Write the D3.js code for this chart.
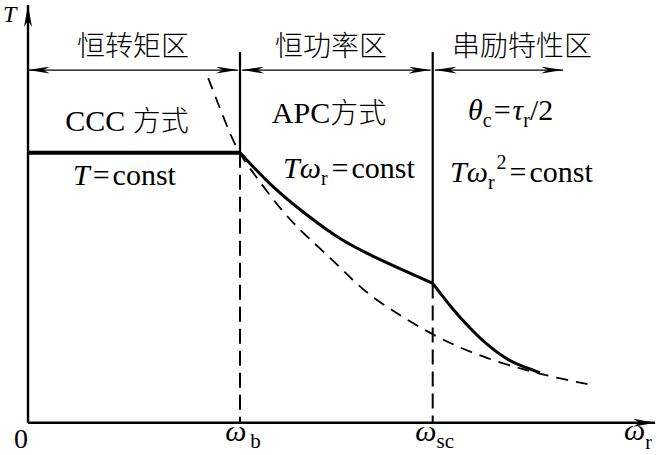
<!DOCTYPE html>
<html>
<head>
<meta charset="utf-8">
<script src="https://cdn.jsdelivr.net/npm/d3@7"></script>
<style>
  body { margin: 0; background: #fff; }
  text { fill: #000; }
</style>
</head>
<body>
<script>
// values: speed in units of omega_b, torque in units of the constant torque
var regionBounds = [0, 1, 1.909, 2.524];
var regionNames = ["恒转矩区", "恒功率区", "串励特性区"];

var constOmega = [0, 1];
var constTorque = [1, 1];

var apcOmega = [1.0, 1.157, 1.315, 1.472, 1.629, 1.786, 1.909];
var apcTorque = [1.0, 0.868, 0.769, 0.677, 0.615, 0.559, 0.516];

var seriesOmega = [1.909, 2.006, 2.085, 2.164, 2.258, 2.321, 2.415];
var seriesTorque = [0.516, 0.417, 0.350, 0.289, 0.234, 0.212, 0.185];

var dashOmega = [0.850, 0.921, 0.984, 1.063, 1.204, 1.315, 1.472, 1.598, 1.865, 2.006, 2.164, 2.321, 2.478, 2.659];
var dashTorque = [1.276, 1.133, 1.010, 0.924, 0.776, 0.689, 0.578, 0.473, 0.344, 0.288, 0.238, 0.201, 0.168, 0.140];

var tickOmega = [0, 1, 1.909];

var dividerTop = 1.373;   // top of the region dividers
var arrowRow = 1.306;     // level of the region arrows
var axisTopT = 1.547;
var axisEndW = 2.958;

var svgWidth = 657;
var svgHeight = 455;

var svg = d3.select("body")
  .append("svg")
  .attr("width", svgWidth)
  .attr("height", svgHeight);

var x = d3.scaleLinear().domain([0, 3]).range([28, 664]);
var y = d3.scaleLinear().domain([0, 1.5]).range([422.7, 17.7]);

var defs = svg.append("defs");
function addMarker(id, len, half) {
  defs.append("marker")
    .attr("id", id)
    .attr("markerUnits", "userSpaceOnUse")
    .attr("viewBox", `0 ${-half} ${len} ${half * 2}`)
    .attr("refX", len)
    .attr("refY", 0)
    .attr("markerWidth", len)
    .attr("markerHeight", half * 2)
    .attr("orient", "auto-start-reverse")
    .append("path")
    .attr("d", `M0,${-half}L${len},0L0,${half}L${len * 0.3},0Z`)
    .attr("fill", "#000");
}
addMarker("dart", 22, 3.5);
addMarker("axisHead", 22, 4);

function zipPts(ws, ts) {
  return ws.map((w, i) => [w, ts[i]]);
}

var line = d3.line()
  .x(d => x(d[0]))
  .y(d => y(d[1]));
var smooth = d3.line()
  .x(d => x(d[0]))
  .y(d => y(d[1]))
  .curve(d3.curveBasis);

// axes
svg.append("line")
  .attr("x1", x(0)).attr("y1", y(0))
  .attr("x2", x(0)).attr("y2", y(axisTopT))
  .attr("stroke", "#000").attr("stroke-width", 2.4)
  .attr("marker-end", "url(#axisHead)");
svg.append("line")
  .attr("x1", x(0)).attr("y1", y(0))
  .attr("x2", x(axisEndW)).attr("y2", y(0))
  .attr("stroke", "#000").attr("stroke-width", 2.4)
  .attr("marker-end", "url(#axisHead)");

// region dividers: solid above the curve, dashed below
var breakT = [1, apcTorque[apcTorque.length - 1]];
[1, 2].forEach(function(k, i) {
  var w = regionBounds[k];
  svg.append("path")
    .attr("d", line([[w, dividerTop], [w, breakT[i]]]))
    .attr("stroke", "#000").attr("stroke-width", 2.2).attr("fill", "none");
  svg.append("path")
    .attr("d", line([[w, breakT[i]], [w, 0]]))
    .attr("stroke", "#000").attr("stroke-width", 2)
    .attr("stroke-dasharray", "15,7").attr("fill", "none");
});

// region arrows
for (var i = 0; i < 3; i++) {
  var gap = i === 0 ? 0 : 0.01;
  svg.append("line")
    .attr("x1", x(regionBounds[i] + gap)).attr("y1", y(arrowRow))
    .attr("x2", x(regionBounds[i + 1] - (i < 2 ? 0.01 : 0))).attr("y2", y(arrowRow))
    .attr("stroke", "#000").attr("stroke-width", 1.4)
    .attr("marker-start", "url(#dart)")
    .attr("marker-end", "url(#dart)");
}

// dashed reference curve
svg.append("path")
  .attr("d", smooth(zipPts(dashOmega, dashTorque)))
  .attr("fill", "none").attr("stroke", "#000")
  .attr("stroke-width", 1.8).attr("stroke-dasharray", "12,8");

// characteristic
svg.append("path")
  .attr("d", line(zipPts(constOmega, constTorque)))
  .attr("fill", "none").attr("stroke", "#000").attr("stroke-width", 4);
svg.append("path")
  .attr("d", smooth(zipPts(apcOmega, apcTorque)))
  .attr("fill", "none").attr("stroke", "#000").attr("stroke-width", 3);
svg.append("path")
  .attr("d", smooth(zipPts(seriesOmega, seriesTorque)))
  .attr("fill", "none").attr("stroke", "#000").attr("stroke-width", 3);

// text
var serif = "'Liberation Serif', 'Noto Sans CJK SC', serif";
var cjk = "'Noto Sans CJK SC', sans-serif";

var regionCx = [133, 331, 522];
regionNames.forEach(function(name, i) {
  svg.append("text")
    .attr("x", regionCx[i]).attr("y", 56)
    .attr("text-anchor", "middle")
    .attr("font-family", cjk).attr("font-size", 28)
    .attr("font-weight", 300)
    .text(name);
});

function label(xp, yp, anchor, parts) {
  var t = svg.append("text")
    .attr("x", xp).attr("y", yp)
    .attr("text-anchor", anchor)
    .attr("font-family", serif).attr("font-size", 30);
  parts.forEach(function(p) {
    var s = t.append("tspan").text(p.t);
    if (p.i) s.attr("font-style", "italic");
    if (p.dy) s.attr("dy", p.dy);
    if (p.fs) s.attr("font-size", p.fs);
    if (p.f) s.attr("font-family", p.f).attr("font-weight", 300);
    if (p.dx) s.attr("dx", p.dx);
  });
  return t;
}

label(127, 131, "middle", [{t: "CCC "}, {t: "方式", f: cjk, fs: 28}]);
label(329, 123, "middle", [{t: "APC"}, {t: "方式", f: cjk, fs: 28}]);
label(73, 185, "start", [{t: "T", i: true}, {t: "=", dx: 3}, {t: "const", dx: 3}]);
label(283, 178, "start", [{t: "T", i: true}, {t: "ω", i: true},
  {t: "r", fs: 20, dy: 7}, {t: "=", dy: -7, dx: 4}, {t: "const", dx: 3}]);
label(468, 120, "start", [{t: "θ", i: true}, {t: "c", fs: 20, dy: 7},
  {t: "=", dy: -7, dx: 2}, {t: "τ", i: true, dx: 2}, {t: "r", fs: 20, dy: 7}, {t: "/2", dy: -7}]);
label(450, 182, "start", [{t: "T", i: true}, {t: "ω", i: true},
  {t: "r", fs: 20, dy: 7}, {t: "2", fs: 20, dy: -20, dx: 2}, {t: "=", dy: 13, dx: 3}, {t: "const", dx: 3}]);

// axis labels
label(3, 22, "start", [{t: "T", i: true}]).attr("font-size", 24);
label(21, 448, "middle", [{t: "0"}]).attr("font-size", 28);
var tickNames = [null, "b", "sc"];
tickOmega.forEach(function(w, i) {
  if (i === 0) return;
  label(x(w) + (i === 1 ? 3 : 2), 441, "middle", [{t: "ω", i: true},
    {t: tickNames[i], fs: 21, dy: 7, dx: i === 1 ? 4 : 0}]);
});
label(638, 440, "middle", [{t: "ω", i: true}, {t: "r", fs: 20, dy: 9}]);
</script>
</body>
</html>
